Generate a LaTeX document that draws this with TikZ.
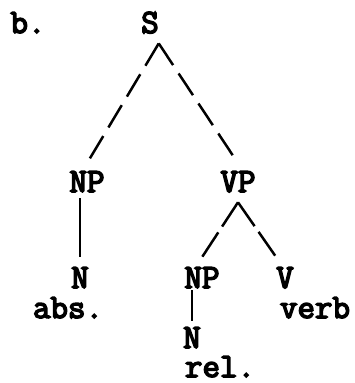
\documentclass[tikz,border=0pt]{standalone}
\usepackage{fontspec}
\newfontfamily\treefont[FakeBold=4.5]{Latin Modern Mono}
\usetikzlibrary{positioning}

\begin{document}
\begin{tikzpicture}[
  x=1pt, y=-1pt,
  cat/.style={font=\fontsize{34}{40}\selectfont\treefont\bfseries, inner sep=0pt, outer sep=0pt, anchor=base},
  branch/.style={draw, line width=2.5pt, dash pattern=on 26pt off 10pt},
  shortbranch/.style={draw, line width=2.5pt, dash pattern=on 29pt off 7pt},
  stem/.style={draw, line width=2.5pt}
]
\useasboundingbox (0,0) rectangle (355,383);

\node[cat] (label) at (28,33) {b.};
\node[cat] (s) at (150,33) {S};
\node[cat] (np) at (87,192) {NP};
\node[cat] (vp) at (238,192) {VP};
\node[cat] (n) at (80,288) {N};
\node[cat] (abs) at (68,318) {abs.};
\node[cat] (npb) at (202,288) {NP};
\node[cat] (v) at (285,288) {V};
\node[cat] (verb) at (315,318) {verb};
\node[cat] (nb) at (192,348) {N};
\node[cat] (rel) at (220,377) {rel.};

\path[branch] ([yshift=-10pt]s.south east) -- ([yshift=8pt]np.north);
\path[branch] ([yshift=-10pt]s.south east) -- ([yshift=8pt]vp.north);
\path[stem] ([yshift=-6pt]n.north |- np.south) -- ([yshift=10pt]n.north);
\path[shortbranch] ([yshift=-10pt]vp.south) -- ([yshift=10pt]npb.north);
\path[shortbranch] ([yshift=-10pt]vp.south) -- ([yshift=10pt]v.north west);
\path[stem] ([yshift=-2pt]nb.north |- npb.south) -- ([yshift=6pt]nb.north);

\end{tikzpicture}
\end{document}
